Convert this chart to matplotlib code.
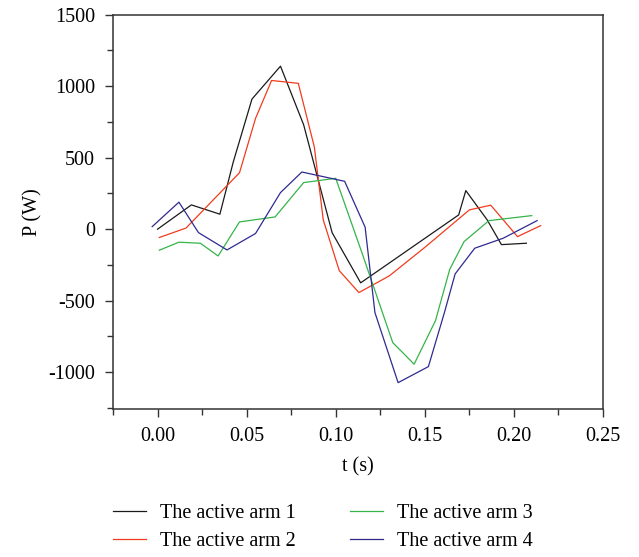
import numpy as np
import matplotlib
matplotlib.use("Agg")
from matplotlib import pyplot as plt
from matplotlib.ticker import MultipleLocator

# arm 1 (black)
t1 = [0.000, 0.019, 0.035, 0.0425, 0.053, 0.069, 0.082, 0.098, 0.114, 0.130, 0.150, 0.169, 0.173, 0.185, 0.193, 0.207]
p1 = [0, 170, 105, 470, 910, 1140, 730, -25, -375, -237, -64, 100, 270, 65, -108, -98]

# arm 2 (red)
t2 = [0.001, 0.016, 0.046, 0.055, 0.064, 0.079, 0.088, 0.093, 0.102, 0.113, 0.130, 0.150, 0.175, 0.187, 0.202, 0.215]
p2 = [-58, 8, 395, 775, 1040, 1020, 575, 65, -290, -443, -327, -127, 135, 168, -52, 25]

# arm 3 (green)
t3 = [0.001, 0.012, 0.024, 0.034, 0.046, 0.066, 0.082, 0.100, 0.115, 0.132, 0.144, 0.156, 0.164, 0.172, 0.186, 0.210]
p3 = [-147, -91, -98, -187, 51, 86, 326, 356, -175, -793, -944, -639, -280, -87, 60, 95]

# arm 4 (blue)
t4 = [-0.003, 0.012, 0.023, 0.039, 0.055, 0.069, 0.081, 0.105, 0.1165, 0.122, 0.135, 0.152, 0.161, 0.167, 0.178, 0.194, 0.213]
p4 = [18, 189, -24, -145, -30, 256, 400, 335, 14, -583, -1073, -961, -583, -313, -133, -63, 60]

labels = ["The active arm 1", "The active arm 2", "The active arm 3", "The active arm 4"]
colors = ["#1a1a1a", "#f03c1e", "#35b44a", "#2f2a90"]

plt.rcParams["font.family"] = ["Liberation Serif", "DejaVu Serif"]
plt.rcParams["font.size"] = 14.5
plt.rcParams["axes.unicode_minus"] = False

fig = plt.figure(figsize=(6.39, 5.57), dpi=100)
ax = fig.add_axes([0.1768, 0.2663, 0.7669, 0.7073])

lines = []
for t, p, c, lab in zip([t1, t2, t3, t4], [p1, p2, p3, p4], colors, labels):
    ln, = ax.plot(t, p, color=c, lw=0.9, label=lab)
    lines.append(ln)

ax.set_xlim(-0.025, 0.25)
ax.set_ylim(-1255, 1500)
ax.set_xticks([0.00, 0.05, 0.10, 0.15, 0.20, 0.25])
ax.set_xticklabels(["0.00", "0.05", "0.10", "0.15", "0.20", "0.25"])
ax.set_yticks([-1000, -500, 0, 500, 1000, 1500])
ax.xaxis.set_minor_locator(MultipleLocator(0.025))
ax.yaxis.set_minor_locator(MultipleLocator(250))
ax.tick_params(which="major", direction="out", length=6, width=1, color="#333333", pad=7)
ax.tick_params(which="minor", direction="out", length=4, width=1, color="#333333")
ax.tick_params(top=False, right=False)
for s in ax.spines.values():
    s.set_linewidth(1.1)
    s.set_color("#333333")

ax.set_xlabel("t (s)", labelpad=8)
ax.set_ylabel("P (W)", labelpad=4)

# two one-column legends under the axes
leg_kw = dict(frameon=False, loc="center left", handlelength=1.65, handletextpad=0.7,
              labelspacing=0.45, borderpad=0, borderaxespad=0)
fig.legend(handles=lines[:2], labels=labels[:2], bbox_to_anchor=(0.1768, 0.053), **leg_kw)
fig.legend(handles=lines[2:], labels=labels[2:], bbox_to_anchor=(0.5477, 0.053), **leg_kw)

fig.savefig("out.png", dpi=100)
